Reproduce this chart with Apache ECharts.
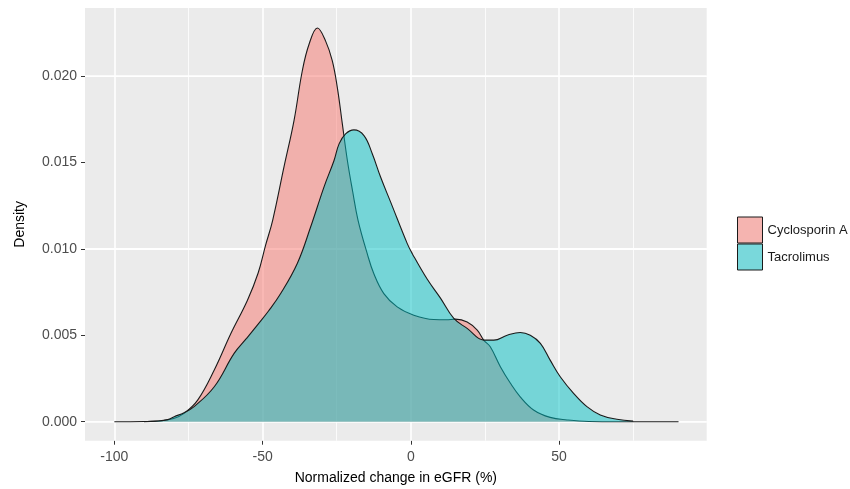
<!DOCTYPE html>
<html>
<head>
<meta charset="utf-8">
<script src="https://cdn.jsdelivr.net/npm/echarts@6/dist/echarts.min.js"></script>
<style>
html,body{margin:0;padding:0;background:#fff;}
#chart{width:850px;height:489px;}
</style>
</head>
<body>
<div id="chart"></div>
<script>
// ---- data ----
const seriesNames = ['Cyclosporin A', 'Tacrolimus'];
const xTicks = [-100, -50, 0, 50];
const xMinorGrid = [-75, -25, 25, 75];
const yTicks = [0, 0.005, 0.010, 0.015, 0.020];
const yMinorGrid = [0.0025, 0.0075, 0.0125, 0.0175, 0.0225];

const cyclosporinA = [
  [-100, 0], [-90, 0.00001], [-84, 0.00005], [-80, 0.00018], [-76.5, 0.00048],
  [-71.9, 0.00125], [-66.3, 0.00299], [-60.7, 0.0051], [-55.1, 0.00703],
  [-51.5, 0.0086], [-49.0, 0.0102], [-46.6, 0.01165], [-42.8, 0.01472],
  [-39.4, 0.01742], [-36.6, 0.0203], [-34.3, 0.02185], [-31.5, 0.02277],
  [-28.7, 0.0220], [-26.5, 0.02088], [-24.8, 0.01934], [-23.1, 0.01723],
  [-21.4, 0.01511], [-19.6, 0.0133], [-17.8, 0.01165], [-14.7, 0.00972],
  [-12.5, 0.00857], [-9.1, 0.00741], [-4.6, 0.00664], [1.0, 0.00616],
  [7.7, 0.00591], [12.0, 0.0059], [15.0, 0.00593], [19.0, 0.00577],
  [22.4, 0.0053], [24.6, 0.00472], [26.8, 0.00433], [30.2, 0.00318],
  [33.6, 0.00222], [36.9, 0.00144], [41.4, 0.00068], [47.0, 0.00025],
  [52.7, 0.0001], [60, 0.00001], [70, 0], [90.3, 0]
];
const tacrolimus = [
  [-90, 0], [-86, 0.00003], [-82, 0.00012], [-79.8, 0.00029], [-76.5, 0.00052],
  [-73.1, 0.00087], [-66.3, 0.00202], [-59.6, 0.00395], [-55.5, 0.0048],
  [-51.7, 0.0056], [-48.0, 0.0064], [-43.9, 0.00741], [-38.3, 0.00915],
  [-33.8, 0.01126], [-29.3, 0.01357], [-25.9, 0.01511], [-24.2, 0.01607],
  [-22.0, 0.01665], [-19.2, 0.01688], [-15.8, 0.01655], [-13.0, 0.0155],
  [-10.2, 0.01415], [-6.8, 0.0127], [-1.2, 0.0103], [0.5, 0.00972],
  [5.5, 0.00825], [10.0, 0.00715], [14.5, 0.00597], [19.0, 0.0054],
  [24.6, 0.00472], [28.0, 0.00472], [32.5, 0.005], [36.9, 0.00516],
  [40.3, 0.005], [43.7, 0.00453], [47.0, 0.00356], [50.4, 0.0026],
  [54.9, 0.00164], [59.4, 0.00087], [63.9, 0.00039], [69.5, 0.00014], [75, 0.00003]
];

const chart = echarts.init(document.getElementById('chart'), null, {renderer: 'canvas'});
const FONT = 'Liberation Sans, Arial, sans-serif';

const gridLines = [];
xTicks.forEach(v => gridLines.push({xAxis: v, lineStyle: {width: 1.6}}));
xMinorGrid.forEach(v => gridLines.push({xAxis: v, lineStyle: {width: 0.8}}));
yTicks.forEach(v => gridLines.push({yAxis: v, lineStyle: {width: 1.6}}));
yMinorGrid.forEach(v => gridLines.push({yAxis: v, lineStyle: {width: 0.8}}));

chart.setOption({
  animation: false,
  grid: {
    left: 85, top: 8, right: 143.3, bottom: 48.3,
    outerBoundsMode: 'none', containLabel: false,
    show: true, backgroundColor: '#EBEBEB', borderWidth: 0
  },
  legend: {
    orient: 'vertical', left: 732, top: 211.5, itemGap: 0,
    itemWidth: 25, itemHeight: 26,
    textStyle: {fontFamily: FONT, fontSize: 13, color: '#1a1a1a'},
    selectedMode: false,
    data: [
      {name: seriesNames[0], icon: 'rect', itemStyle: {color: '#F5B4B0', borderColor: '#1a1a1a', borderWidth: 1}},
      {name: seriesNames[1], icon: 'rect', itemStyle: {color: '#79D8DB', borderColor: '#1a1a1a', borderWidth: 1}}
    ]
  },
  xAxis: {
    type: 'value', min: -109.9, max: 99.8,
    name: 'Normalized change in eGFR (%)', nameLocation: 'middle', nameGap: 30,
    nameTextStyle: {fontFamily: FONT, fontSize: 14, color: '#000', verticalAlign: 'top'},
    axisLine: {show: false, onZero: false},
    axisTick: {show: true, customValues: xTicks, length: 4, lineStyle: {color: '#333', width: 1}},
    axisLabel: {customValues: xTicks, fontFamily: FONT, fontSize: 14, color: '#4D4D4D', margin: 9},
    splitLine: {show: false}
  },
  yAxis: {
    type: 'value', min: -0.0011, max: 0.02393,
    name: 'Density', nameLocation: 'middle', nameGap: 58, nameRotate: 90,
    nameTextStyle: {fontFamily: FONT, fontSize: 14, color: '#000'},
    axisLine: {show: false, onZero: false},
    axisTick: {show: true, customValues: yTicks, length: 4, lineStyle: {color: '#333', width: 1}},
    axisLabel: {customValues: yTicks, fontFamily: FONT, fontSize: 14, color: '#4D4D4D', margin: 8,
      formatter: v => Number(v).toFixed(3)},
    splitLine: {show: false}
  },
  series: [
    {
      type: 'line', name: '_grid', data: [], z: 1, silent: true,
      markLine: {
        z: 1, silent: true, symbol: 'none', label: {show: false},
        lineStyle: {color: '#FFFFFF', type: 'solid'},
        emphasis: {disabled: true},
        data: gridLines
      }
    },
    {
      type: 'line', name: seriesNames[0], data: cyclosporinA, z: 2,
      smooth: 0.4, showSymbol: false, symbol: 'none',
      lineStyle: {color: '#1a1a1a', width: 1.1},
      itemStyle: {color: '#F8766D'},
      areaStyle: {color: 'rgba(248,118,109,0.5)', opacity: 1}
    },
    {
      type: 'line', name: seriesNames[1], data: tacrolimus, z: 3,
      smooth: 0.4, showSymbol: false, symbol: 'none',
      lineStyle: {color: '#1a1a1a', width: 1.1},
      itemStyle: {color: '#00BFC4'},
      areaStyle: {color: 'rgba(0,191,196,0.5)', opacity: 1}
    }
  ]
});
</script>
</body>
</html>
